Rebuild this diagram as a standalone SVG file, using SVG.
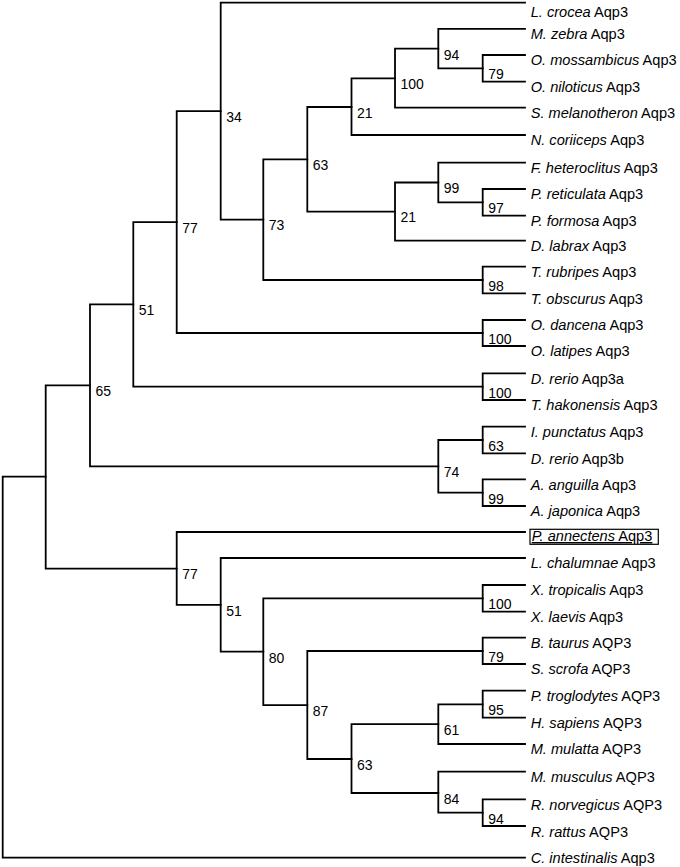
<svg xmlns="http://www.w3.org/2000/svg" width="680" height="867" viewBox="0 0 680 867">
<style>
.e{fill:none;stroke:#000;stroke-width:1.8;stroke-linecap:square}
.b{font-family:"Liberation Sans",Arial,sans-serif;font-size:14px;fill:#000}
.t{font-family:"Liberation Sans",Arial,sans-serif;font-size:14.6px;fill:#000}
.i{font-style:italic}
</style>
<rect width="680" height="867" fill="#fff"/>
<g id="connectors">
<path class="e" d="M45.7 476.7H2.7V857.7H525"/>
<path class="e" d="M90 385.4H45.7V568.6H176.7"/>
<path class="e" d="M133.3 304.4H90V466.3H438.3"/>
<path class="e" d="M176.7 222.1H133.3V386.7H482.7"/>
<path class="e" d="M220.7 111.2H176.7V333H482.7"/>
<path class="e" d="M525 2.7H220.7V219.6H263.3"/>
<path class="e" d="M307.3 159.3H263.3V280H482.7"/>
<path class="e" d="M351.5 107H307.3V211.6H395"/>
<path class="e" d="M395 78.3H351.5V135H525"/>
<path class="e" d="M438.3 48.7H395V107.7H525"/>
<path class="e" d="M525 28.8H438.3V68.4H482.7"/>
<path class="e" d="M525 55H482.7V81.7H525"/>
<path class="e" d="M438.3 182.5H395V240.7H525"/>
<path class="e" d="M525 162.7H438.3V202.4H482.7"/>
<path class="e" d="M525 189H482.7V215.7H525"/>
<path class="e" d="M525 266.7H482.7V293.3H525"/>
<path class="e" d="M525 320H482.7V346H525"/>
<path class="e" d="M525 373.3H482.7V400H525"/>
<path class="e" d="M482.7 440H438.3V492.7H482.7"/>
<path class="e" d="M525 426.7H482.7V453.3H525"/>
<path class="e" d="M525 479.3H482.7V506H525"/>
<path class="e" d="M525 532H176.7V604.8H220.7"/>
<path class="e" d="M525 558H220.7V651.7H263.3"/>
<path class="e" d="M482.7 598.3H263.3V705.2H307.3"/>
<path class="e" d="M525 585H482.7V611.7H525"/>
<path class="e" d="M482.7 651H307.3V759H351.5"/>
<path class="e" d="M525 637.7H482.7V664H525"/>
<path class="e" d="M438.3 724.2H351.5V793H438.3"/>
<path class="e" d="M482.7 704.3H438.3V744H525"/>
<path class="e" d="M525 690.7H482.7V717.7H525"/>
<path class="e" d="M525 771.7H438.3V812.7H482.7"/>
<path class="e" d="M525 799.3H482.7V826H525"/>
</g>
<g id="support">
<g id="n34"><text class="b" x="226.2" y="122">34</text></g>
<g id="n73"><text class="b" x="268.8" y="230.4">73</text></g>
<g id="n63a"><text class="b" x="312.8" y="170.1">63</text></g>
<g id="n21a"><text class="b" x="357" y="117.8">21</text></g>
<g id="n100a"><text class="b" x="400.5" y="89.1">100</text></g>
<g id="n94a"><text class="b" x="443.8" y="59.5">94</text></g>
<g id="n79a"><text class="b" x="488.2" y="79.2">79</text></g>
<g id="n21b"><text class="b" x="400.5" y="222.4">21</text></g>
<g id="n99a"><text class="b" x="443.8" y="193.3">99</text></g>
<g id="n97"><text class="b" x="488.2" y="213.2">97</text></g>
<g id="n98"><text class="b" x="488.2" y="290.8">98</text></g>
<g id="n77a"><text class="b" x="182.2" y="232.9">77</text></g>
<g id="n100b"><text class="b" x="488.2" y="343.8">100</text></g>
<g id="n51a"><text class="b" x="138.8" y="315.2">51</text></g>
<g id="n100c"><text class="b" x="488.2" y="397.5">100</text></g>
<g id="n65"><text class="b" x="95.5" y="396.2">65</text></g>
<g id="n74"><text class="b" x="443.8" y="477.1">74</text></g>
<g id="n63b"><text class="b" x="488.2" y="450.8">63</text></g>
<g id="n99b"><text class="b" x="488.2" y="503.5">99</text></g>
<g id="n77b"><text class="b" x="182.2" y="579.4">77</text></g>
<g id="n51b"><text class="b" x="226.2" y="615.6">51</text></g>
<g id="n100d"><text class="b" x="488.2" y="609.1">100</text></g>
<g id="n80"><text class="b" x="268.8" y="662.5">80</text></g>
<g id="n79b"><text class="b" x="488.2" y="661.8">79</text></g>
<g id="n87"><text class="b" x="312.8" y="716">87</text></g>
<g id="n63c"><text class="b" x="357" y="769.8">63</text></g>
<g id="n61"><text class="b" x="443.8" y="735">61</text></g>
<g id="n95"><text class="b" x="488.2" y="715.1">95</text></g>
<g id="n84"><text class="b" x="443.8" y="803.8">84</text></g>
<g id="n94b"><text class="b" x="488.2" y="823.5">94</text></g>
</g>
<g id="leaves">
<g id="l0"><text class="t" x="530.7" y="16.9"><tspan class="i">L. crocea</tspan> Aqp3</text></g>
<g id="l1"><text class="t" x="530.7" y="39.2"><tspan class="i">M. zebra</tspan> Aqp3</text></g>
<g id="l2"><text class="t" x="530.7" y="65.4"><tspan class="i">O. mossambicus</tspan> Aqp3</text></g>
<g id="l3"><text class="t" x="530.7" y="92.1"><tspan class="i">O. niloticus</tspan> Aqp3</text></g>
<g id="l4"><text class="t" x="530.7" y="118.1"><tspan class="i">S. melanotheron</tspan> Aqp3</text></g>
<g id="l5"><text class="t" x="530.7" y="145.4"><tspan class="i">N. coriiceps</tspan> Aqp3</text></g>
<g id="l6"><text class="t" x="530.7" y="173.1"><tspan class="i">F. heteroclitus</tspan> Aqp3</text></g>
<g id="l7"><text class="t" x="530.7" y="199.4"><tspan class="i">P. reticulata</tspan> Aqp3</text></g>
<g id="l8"><text class="t" x="530.7" y="226.1"><tspan class="i">P. formosa</tspan> Aqp3</text></g>
<g id="l9"><text class="t" x="530.7" y="251.1"><tspan class="i">D. labrax</tspan> Aqp3</text></g>
<g id="l10"><text class="t" x="530.7" y="277.1"><tspan class="i">T. rubripes</tspan> Aqp3</text></g>
<g id="l11"><text class="t" x="530.7" y="303.7"><tspan class="i">T. obscurus</tspan> Aqp3</text></g>
<g id="l12"><text class="t" x="530.7" y="330.4"><tspan class="i">O. dancena</tspan> Aqp3</text></g>
<g id="l13"><text class="t" x="530.7" y="356.4"><tspan class="i">O. latipes</tspan> Aqp3</text></g>
<g id="l14"><text class="t" x="530.7" y="383.7"><tspan class="i">D. rerio</tspan> Aqp3a</text></g>
<g id="l15"><text class="t" x="530.7" y="410.4"><tspan class="i">T. hakonensis</tspan> Aqp3</text></g>
<g id="l16"><text class="t" x="530.7" y="437.1"><tspan class="i">I. punctatus</tspan> Aqp3</text></g>
<g id="l17"><text class="t" x="530.7" y="463.7"><tspan class="i">D. rerio</tspan> Aqp3b</text></g>
<g id="l18"><text class="t" x="530.7" y="489.7"><tspan class="i">A. anguilla</tspan> Aqp3</text></g>
<g id="l19"><text class="t" x="530.7" y="516.4"><tspan class="i">A. japonica</tspan> Aqp3</text></g>
<g id="l20"><rect x="530" y="529.3" width="128.3" height="15" fill="none" stroke="#000" stroke-width="1.2"/><text class="t" x="531.7" y="541" text-decoration="underline"><tspan class="i">P. annectens</tspan> Aqp3</text></g>
<g id="l21"><text class="t" x="530.7" y="568.4"><tspan class="i">L. chalumnae</tspan> Aqp3</text></g>
<g id="l22"><text class="t" x="530.7" y="595.4"><tspan class="i">X. tropicalis</tspan> Aqp3</text></g>
<g id="l23"><text class="t" x="530.7" y="622.1"><tspan class="i">X. laevis</tspan> Aqp3</text></g>
<g id="l24"><text class="t" x="530.7" y="648.1"><tspan class="i">B. taurus</tspan> AQP3</text></g>
<g id="l25"><text class="t" x="530.7" y="674.4"><tspan class="i">S. scrofa</tspan> AQP3</text></g>
<g id="l26"><text class="t" x="530.7" y="701.1"><tspan class="i">P. troglodytes</tspan> AQP3</text></g>
<g id="l27"><text class="t" x="530.7" y="728.1"><tspan class="i">H. sapiens</tspan> AQP3</text></g>
<g id="l28"><text class="t" x="530.7" y="754.4"><tspan class="i">M. mulatta</tspan> AQP3</text></g>
<g id="l29"><text class="t" x="530.7" y="782.1"><tspan class="i">M. musculus</tspan> AQP3</text></g>
<g id="l30"><text class="t" x="530.7" y="809.7"><tspan class="i">R. norvegicus</tspan> AQP3</text></g>
<g id="l31"><text class="t" x="530.7" y="836.9"><tspan class="i">R. rattus</tspan> AQP3</text></g>
<g id="l32"><text class="t" x="530.7" y="863.3"><tspan class="i">C. intestinalis</tspan> Aqp3</text></g>
</g>
</svg>
